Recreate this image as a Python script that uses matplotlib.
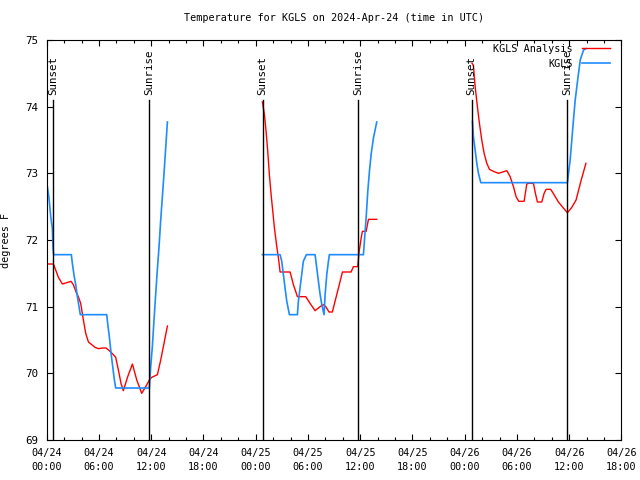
# Temperature for KGLS, analysis vs. observations, 2024-Apr-24 to 26 (UTC)

import matplotlib
matplotlib.use("Agg")
import matplotlib.pyplot as plt
import matplotlib.dates as mdates
import pandas as pd

# hours after 04/24 00:00 UTC
base = pd.Timestamp("2024-04-24 00:00")

# KGLS Analysis (red), three pieces
ana_h1 = [0.0, 0.77, 1.03, 1.34, 1.80, 2.30, 2.79, 3.06, 3.37, 3.63, 3.90, 4.21, 4.48, 4.79,
          5.17, 5.55, 5.93, 6.43, 6.81, 7.19, 7.58, 7.92, 8.23, 8.53, 8.80, 9.30, 9.84,
          10.34, 10.91, 11.41, 11.79, 12.06, 12.71, 13.09, 13.47, 13.86]
ana_v1 = [71.64, 71.64, 71.55, 71.44, 71.34, 71.36, 71.38, 71.33, 71.22, 71.15, 71.05, 70.80,
          70.60, 70.47, 70.43, 70.39, 70.37, 70.38, 70.38, 70.34, 70.29, 70.24, 70.05, 69.85,
          69.74, 69.95, 70.14, 69.90, 69.70, 69.81, 69.90, 69.94, 69.98, 70.20, 70.45, 70.71]
ana_h2 = [24.77, 25.00, 25.19, 25.38, 25.57, 25.77, 25.96, 26.15, 26.42, 26.61, 26.80, 27.95,
          28.33, 28.79, 29.75, 30.24, 30.82, 31.39, 31.77, 32.04, 32.42, 32.80, 33.11, 33.50,
          33.96, 34.95, 35.22, 35.72, 35.87, 36.10, 36.25, 36.68, 36.95, 37.90]
ana_v2 = [74.07, 73.88, 73.63, 73.33, 72.98, 72.68, 72.43, 72.18, 71.90, 71.73, 71.52, 71.52,
          71.33, 71.15, 71.15, 71.05, 70.94, 71.00, 71.03, 71.00, 70.92, 70.92, 71.08, 71.28,
          71.52, 71.52, 71.60, 71.60, 71.82, 72.02, 72.13, 72.13, 72.31, 72.31]
ana_h3 = [48.85, 49.00, 49.20, 49.46, 49.69, 49.96, 50.23, 50.54, 50.84, 51.30, 51.87, 52.37,
          52.84, 53.22, 53.60, 53.90, 54.21, 54.82, 55.13, 55.31, 55.89, 56.12, 56.35, 56.85,
          57.12, 57.35, 57.88, 58.26, 58.76, 59.33, 59.80, 60.30, 60.79, 61.34, 61.92]
ana_v3 = [74.65, 74.62, 74.30, 74.00, 73.75, 73.50, 73.30, 73.15, 73.06, 73.03, 73.00, 73.02,
          73.04, 72.95, 72.80, 72.65, 72.58, 72.58, 72.84, 72.85, 72.85, 72.70, 72.57, 72.57,
          72.70, 72.76, 72.76, 72.68, 72.57, 72.48, 72.41, 72.49, 72.60, 72.88, 73.15]

# KGLS observations (blue), three pieces
obs_h1 = [0.0, 0.26, 0.46, 0.65, 0.68, 0.74, 0.80, 2.83, 2.94, 3.14, 3.33, 3.52, 3.71, 3.86,
          6.89, 7.00, 7.19, 7.39, 7.58, 7.77, 7.92, 11.79, 11.94, 12.13, 12.32, 12.52, 12.70,
          12.90, 13.09, 13.28, 13.47, 13.86]
obs_v1 = [72.87, 72.63, 72.35, 72.17, 72.02, 71.86, 71.78, 71.78, 71.65, 71.47, 71.33, 71.15,
          71.00, 70.88, 70.88, 70.75, 70.55, 70.30, 70.10, 69.90, 69.78, 69.78, 70.10, 70.40,
          70.80, 71.20, 71.55, 71.90, 72.30, 72.65, 73.00, 73.77]
obs_h2 = [24.77, 26.80, 26.99, 27.18, 27.37, 27.57, 27.87, 28.79, 28.90, 29.09, 29.28, 29.47,
          29.82, 30.82, 31.01, 31.20, 31.40, 31.59, 31.85, 31.97, 32.16, 32.35, 32.46, 36.37,
          36.48, 36.68, 36.87, 37.06, 37.25, 37.52, 37.90]
obs_v2 = [71.78, 71.78, 71.68, 71.48, 71.28, 71.08, 70.88, 70.88, 71.08, 71.28, 71.48, 71.68,
          71.78, 71.78, 71.58, 71.38, 71.18, 71.03, 70.88, 71.18, 71.48, 71.68, 71.78, 71.78,
          71.98, 72.33, 72.73, 73.03, 73.28, 73.53, 73.77]
obs_h3 = [48.89, 49.00, 49.20, 49.39, 49.58, 49.85, 59.80, 59.92, 60.11, 60.30, 60.49, 60.69,
          60.88, 61.07, 61.27, 61.65, 61.92]
obs_v3 = [73.78, 73.55, 73.35, 73.15, 73.00, 72.86, 72.86, 73.00, 73.20, 73.50, 73.80, 74.10,
          74.30, 74.50, 74.70, 74.85, 74.87]

sunset_h = [0.77, 24.78, 48.80]
sunrise_h = [11.80, 35.80, 59.80]


def to_time(hours):
    return base + pd.to_timedelta(hours, unit="h")


plt.rcParams["font.family"] = "DejaVu Sans Mono"
plt.rcParams["font.size"] = 7.3

fig = plt.figure(figsize=(6.4, 4.8), dpi=100)
ax = fig.add_axes([0.073, 0.0833, 0.898, 0.8334])

red = "#ff0000"
blue = "#1e8cff"
for i, (h, v) in enumerate([(ana_h1, ana_v1), (ana_h2, ana_v2), (ana_h3, ana_v3)]):
    ax.plot(to_time(h), v, color=red, lw=1.0, label="KGLS Analysis" if i == 0 else None)
for i, (h, v) in enumerate([(obs_h1, obs_v1), (obs_h2, obs_v2), (obs_h3, obs_v3)]):
    ax.plot(to_time(h), v, color=blue, lw=1.2, label="KGLS" if i == 0 else None)

# sunrise / sunset markers
for name, hours in [("Sunset", sunset_h), ("Sunrise", sunrise_h)]:
    for t in to_time(hours):
        ax.plot([t, t], [69, 74.1], color="black", lw=1.0)
        ax.text(t, 74.18, name, rotation=90, ha="center", va="bottom", fontsize=7.8)

ax.set_xlim(to_time(0), to_time(66))
ax.set_ylim(69, 75)
ax.set_yticks(range(69, 76))
ax.xaxis.set_major_locator(mdates.HourLocator(byhour=[0, 6, 12, 18]))
ax.xaxis.set_minor_locator(mdates.HourLocator(byhour=range(0, 24, 2)))
ax.xaxis.set_major_formatter(mdates.DateFormatter("%m/%d\n%H:%M"))
for lbl in ax.get_xticklabels():
    lbl.set_linespacing(1.45)
ax.tick_params(which="both", direction="in", top=True, right=True, width=0.8)
ax.tick_params(which="major", length=4, pad=6)
ax.tick_params(axis="y", which="major", labelsize=7.8)
ax.tick_params(which="minor", length=2)
for s in ax.spines.values():
    s.set_linewidth(0.8)

ax.set_title("Temperature for KGLS on 2024-Apr-24 (time in UTC)", fontsize=7.3, pad=14)
ax.set_ylabel("degrees F", labelpad=10)

ax.legend(loc="upper right", bbox_to_anchor=(0.980, 0.99), frameon=False, markerfirst=False,
          handlelength=2.8, handletextpad=0.9, labelspacing=0.45, borderaxespad=0,
          borderpad=0)

fig.savefig("out.png", dpi=100)
